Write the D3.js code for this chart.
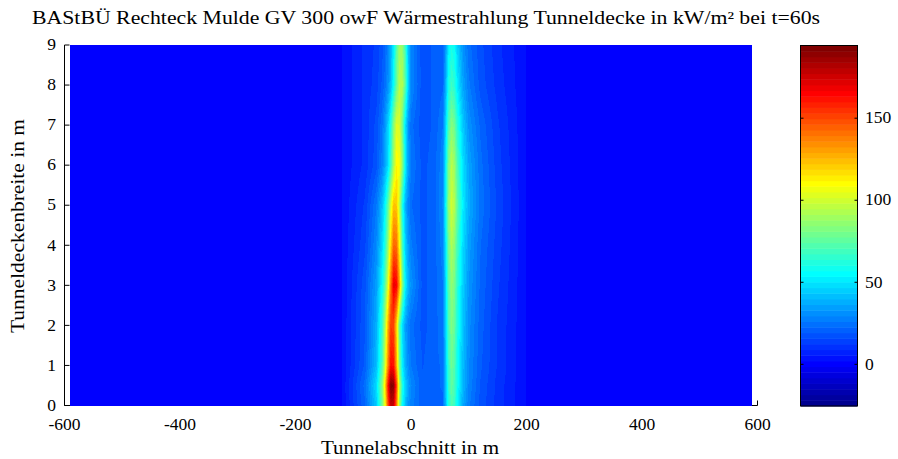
<!DOCTYPE html>
<html><head><meta charset="utf-8">
<script src="https://cdn.jsdelivr.net/npm/d3@7"></script>
<style>
body{margin:0;background:#fff;}
svg{display:block;}
text{font-family:"Liberation Serif","Times New Roman",serif;fill:#000;}
</style>
</head><body>
<svg id="chart" width="898" height="459"></svg>
<script>
// ---- data ----
const titleText = "BAStBÜ Rechteck Mulde GV 300 owF Wärmestrahlung Tunneldecke in kW/m² bei t=60s";
const xLabel = "Tunnelabschnitt in m";
const yLabel = "Tunneldeckenbreite in m";
const xTicks = [-600, -400, -200, 0, 200, 400, 600];
const yTicks = [0, 1, 2, 3, 4, 5, 6, 7, 8, 9];
const cTicks = [0, 50, 100, 150];
const xDomain = [-600, 600];
const yDomain = [0, 9];
const colorLimits = [-25.4, 194.3];
const colorLevels = 64;

const gridX = [-590, -200, -120, -80, -60, -50, -45, -40, -35, -30, -25, -20, -15, -10, -5, 0,
               20, 40, 55, 60, 65, 70, 75, 80, 90, 100, 120, 150, 200, 300, 590];
const gridY = [0, 0.5, 1, 2, 3, 4, 5, 6, 7, 8, 9];

const rowY0   = [1, 1, 2, 22, 44, 78, 107, 148, 179, 176, 139, 89, 57, 43, 33, 28, 20, 22, 22, 40, 62, 72, 68, 55, 37, 27, 18, 11, 2, 1, 1];
const rowY0_5 = [1, 1, 2, 24, 48, 84, 116, 160, 194, 190, 150, 96, 62, 46, 36, 30, 20, 22, 23, 42, 65, 76, 71, 58, 40, 29, 19, 11, 2, 1, 1];
const rowY1   = [1, 1, 2, 20, 41, 71, 99, 136, 165, 162, 128, 82, 53, 39, 31, 26, 19, 22, 23, 43, 67, 78, 73, 59, 41, 30, 20, 12, 2, 1, 1];
const rowY2   = [1, 1, 2, 19, 38, 66, 92, 126, 153, 150, 119, 76, 49, 36, 28, 24, 18, 21, 25, 45, 71, 82, 77, 62, 43, 31, 21, 12, 2, 1, 1];
const rowY3   = [1, 1, 2, 18, 35, 56, 74, 102, 140, 170, 166, 131, 84, 54, 40, 32, 18, 21, 26, 47, 74, 86, 81, 65, 45, 33, 22, 13, 2, 1, 1];
const rowY4   = [1, 1, 2, 15, 30, 47, 62, 86, 118, 144, 141, 111, 71, 46, 34, 27, 18, 21, 28, 51, 79, 92, 86, 70, 48, 35, 23, 14, 2, 1, 1];
const rowY5   = [1, 1, 2, 13, 26, 41, 54, 74, 102, 124, 122, 96, 61, 40, 29, 23, 18, 21, 30, 55, 86, 100, 94, 76, 52, 38, 25, 15, 2, 1, 1];
const rowY6   = [1, 1, 2, 10, 18, 28, 37, 48, 67, 92, 112, 109, 86, 55, 36, 26, 18, 21, 29, 52, 82, 95, 89, 72, 49, 36, 24, 14, 2, 1, 1];
const rowY7   = [1, 1, 2, 10, 17, 25, 34, 45, 61, 85, 103, 101, 80, 51, 33, 24, 17, 20, 26, 46, 72, 84, 79, 64, 44, 32, 22, 13, 2, 1, 1];
const rowY8   = [1, 1, 2, 10, 14, 20, 24, 31, 41, 57, 78, 95, 93, 74, 47, 30, 17, 20, 22, 38, 59, 68, 64, 52, 36, 27, 18, 11, 2, 1, 1];
const rowY9   = [1, 1, 2, 10, 13, 18, 22, 29, 39, 53, 74, 89, 87, 69, 44, 29, 17, 20, 20, 33, 52, 60, 57, 46, 32, 24, 17, 10, 2, 1, 1];
const gridValues = [rowY0, rowY0_5, rowY1, rowY2, rowY3, rowY4, rowY5, rowY6, rowY7, rowY8, rowY9];

// ---- MATLAB jet(64) ----
function jetColormap(m) {
  const n = Math.ceil(m / 4);
  const u = [];
  for (let i = 1; i <= n; i++) u.push(i / n);
  for (let i = 1; i <= n - 1; i++) u.push(1);
  for (let i = n; i >= 1; i--) u.push(i / n);
  const g0 = Math.ceil(n / 2) - (m % 4 === 1 ? 1 : 0);
  const cmap = [];
  for (let k = 1; k <= m; k++) cmap.push([0, 0, 0]);
  for (let j = 1; j <= u.length; j++) {
    const g = g0 + j, r = g + n, b = g - n;
    if (g >= 1 && g <= m) cmap[g - 1][1] = u[j - 1];
    if (r >= 1 && r <= m) cmap[r - 1][0] = u[j - 1];
    if (b >= 1 && b <= m) cmap[b - 1][2] = u[j - 1];
  }
  return cmap.map(c => c.map(v => Math.round(v * 255)));
}
const cmap = jetColormap(colorLevels);
function colorIndex(v) {
  let k = Math.floor((v - colorLimits[0]) / (colorLimits[1] - colorLimits[0]) * colorLevels);
  return Math.max(0, Math.min(colorLevels - 1, k));
}

// ---- layout ----
const svg = d3.select("#chart");
const x = d3.scaleLinear().domain(xDomain).range([64.5, 757.5]);
const y = d3.scaleLinear().domain(yDomain).range([405.5, 45]);
const cy = d3.scaleLinear().domain(colorLimits).range([406, 45.5]);

// axes (under the image, like MATLAB's default layer)
const axG = svg.append("g");
axG.append("line").attr("x1", x(-600)).attr("x2", x(600)).attr("y1", y(0)).attr("y2", y(0))
  .attr("stroke", "#000").attr("stroke-width", 1);
axG.append("line").attr("x1", x(-600)).attr("x2", x(-600)).attr("y1", y(0)).attr("y2", y(9))
  .attr("stroke", "#000").attr("stroke-width", 1);
axG.selectAll(".xt").data(xTicks).enter().append("line")
  .attr("x1", d => x(d)).attr("x2", d => x(d)).attr("y1", y(0)).attr("y2", y(0) - 5)
  .attr("stroke", "#000");
axG.selectAll(".yt").data(yTicks).enter().append("line")
  .attr("x1", x(-600)).attr("x2", x(-600) + 5).attr("y1", d => y(d)).attr("y2", d => y(d))
  .attr("stroke", "#000");
axG.selectAll(".xl").data(xTicks).enter().append("text")
  .attr("x", d => x(d)).attr("y", 430).attr("text-anchor", "middle")
  .attr("font-size", 17.5).text(d => d);
axG.selectAll(".yl").data(yTicks).enter().append("text")
  .attr("x", 56).attr("y", d => y(d)).attr("dy", "0.3em").attr("text-anchor", "end")
  .attr("font-size", 17.5).text(d => d);

// heatmap (interpolated shading, indexed into 64-colour jet)
const x0 = Math.round(x(gridX[0])), x1 = Math.round(x(gridX[gridX.length - 1]));
const yTop = Math.round(y(gridY[gridY.length - 1])), yBot = Math.round(y(gridY[0]));
const W = x1 - x0, H = yBot - yTop;
const canvas = document.createElement("canvas");
canvas.width = W; canvas.height = H;
const ctx = canvas.getContext("2d");
const img = ctx.createImageData(W, H);
const bis = d3.bisector(d => d).right;
function locate(arr, v) {
  let i = bis(arr, v) - 1;
  i = Math.max(0, Math.min(arr.length - 2, i));
  const t = Math.max(0, Math.min(1, (v - arr[i]) / (arr[i + 1] - arr[i])));
  return [i, t];
}
for (let py = 0; py < H; py++) {
  const yv = y.invert(yTop + py + 0.5);
  const [j, ty] = locate(gridY, yv);
  for (let px = 0; px < W; px++) {
    const xv = x.invert(x0 + px + 0.5);
    const [i, tx] = locate(gridX, xv);
    const v00 = gridValues[j][i], v01 = gridValues[j][i + 1];
    const v10 = gridValues[j + 1][i], v11 = gridValues[j + 1][i + 1];
    const v = (v00 * (1 - tx) + v01 * tx) * (1 - ty) + (v10 * (1 - tx) + v11 * tx) * ty;
    const c = cmap[colorIndex(v)];
    const o = (py * W + px) * 4;
    img.data[o] = c[0]; img.data[o + 1] = c[1]; img.data[o + 2] = c[2]; img.data[o + 3] = 255;
  }
}
ctx.putImageData(img, 0, 0);
svg.append("image").attr("x", x0).attr("y", yTop).attr("width", W).attr("height", H)
  .attr("preserveAspectRatio", "none").attr("href", canvas.toDataURL());

// colorbar
const cbX = 801, cbW = 56;
const step = (colorLimits[1] - colorLimits[0]) / colorLevels;
const bands = d3.range(colorLevels);
svg.append("g").selectAll("rect").data(bands).enter().append("rect")
  .attr("x", cbX).attr("width", cbW)
  .attr("y", k => cy(colorLimits[0] + (k + 1) * step))
  .attr("height", k => cy(colorLimits[0] + k * step) - cy(colorLimits[0] + (k + 1) * step) + 0.5)
  .attr("fill", k => `rgb(${cmap[k].join(",")})`);
svg.append("rect").attr("x", cbX - 0.5).attr("y", cy(colorLimits[1])).attr("width", cbW + 1)
  .attr("height", cy(colorLimits[0]) - cy(colorLimits[1])).attr("fill", "none").attr("stroke", "#000");
svg.selectAll(".ctl").data(cTicks).enter().append("line")
  .attr("x1", cbX - 0.5).attr("x2", cbX + 2.5).attr("y1", d => cy(d)).attr("y2", d => cy(d)).attr("stroke", "#000");
svg.selectAll(".ctr").data(cTicks).enter().append("line")
  .attr("x1", cbX + cbW + 0.5).attr("x2", cbX + cbW - 2.5).attr("y1", d => cy(d)).attr("y2", d => cy(d)).attr("stroke", "#000");
svg.selectAll(".cl").data(cTicks).enter().append("text")
  .attr("x", 865).attr("y", d => cy(d)).attr("dy", "0.3em").attr("font-size", 17.5).text(d => d);

// titles
svg.append("text").attr("x", 32).attr("y", 24).attr("font-size", 18)
  .attr("textLength", 788).attr("lengthAdjust", "spacingAndGlyphs").text(titleText);
svg.append("text").attr("x", 410).attr("y", 454).attr("text-anchor", "middle").attr("font-size", 18)
  .attr("textLength", 178).attr("lengthAdjust", "spacingAndGlyphs").text(xLabel);
svg.append("text").attr("transform", "translate(24,226) rotate(-90)").attr("text-anchor", "middle")
  .attr("font-size", 18).attr("textLength", 214).attr("lengthAdjust", "spacingAndGlyphs").text(yLabel);
</script>
</body></html>
